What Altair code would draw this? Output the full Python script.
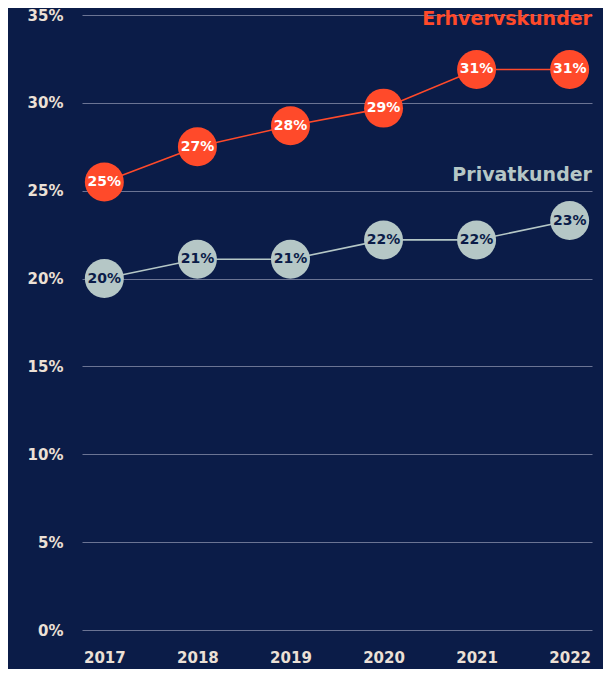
import altair as alt
import pandas as pd

years = ["2017", "2018", "2019", "2020", "2021", "2022"]
erhverv = [25.5, 27.5, 28.7, 29.7, 31.9, 31.9]
erhverv_labels = ["25%", "27%", "28%", "29%", "31%", "31%"]
privat = [20.0, 21.1, 21.1, 22.2, 22.2, 23.3]
privat_labels = ["20%", "21%", "21%", "22%", "22%", "23%"]
series_names = ["Erhvervskunder", "Privatkunder"]
series_label_y = [34.8, 25.9]

BG = "#0b1c48"
RED = "#ff4a2a"
GREY = "#b5c7c6"
CREAM = "#ece0d6"
FONT = "DejaVu Sans"

df = pd.DataFrame({
    "year": years * 2,
    "value": erhverv + privat,
    "label": erhverv_labels + privat_labels,
    "series": [series_names[0]] * 6 + [series_names[1]] * 6,
})
names = pd.DataFrame({"series": series_names, "value": series_label_y})

color = alt.Color("series:N", scale=alt.Scale(domain=series_names, range=[RED, GREY]), legend=None)
x = alt.X("year:O", scale=alt.Scale(type="point", padding=0.24),
          axis=alt.Axis(title=None, labelAngle=0, domain=False, ticks=False, grid=False,
                        labelColor=CREAM, labelFont=FONT, labelFontSize=15, labelFontWeight="bold",
                        labelPadding=20))
y = alt.Y("value:Q", scale=alt.Scale(domain=[0, 35], nice=False),
          axis=alt.Axis(title=None, values=[0, 5, 10, 15, 20, 25, 30, 35], labelExpr="datum.value + '%'",
                        domain=False, ticks=False, grid=True, gridColor="#6b7494", gridWidth=1,
                        labelColor=CREAM, labelFont=FONT, labelFontSize=15, labelFontWeight="bold",
                        labelPadding=19))

base = alt.Chart(df)
lines = base.mark_line(strokeWidth=1.6).encode(x=x, y=y, color=color)
points = base.mark_circle(size=1520, opacity=1).encode(x=x, y=y, color=color)
texts = base.mark_text(font=FONT, fontSize=14, fontWeight="bold").encode(
    x=x, y=y, text="label:N",
    color=alt.Color("series:N", scale=alt.Scale(domain=series_names, range=["#ffffff", BG]), legend=None))
series_text = alt.Chart(names).mark_text(font=FONT, fontSize=19, fontWeight="bold", align="right",
                                          baseline="middle").encode(
    x=alt.value(510), y=alt.Y("value:Q"), text="series:N",
    color=alt.Color("series:N", scale=alt.Scale(domain=series_names, range=[RED, GREY]), legend=None))

chart = alt.layer(lines, points, texts, series_text).resolve_scale(color="independent").properties(
    width=510, height=615, background=BG,
    autosize=alt.AutoSizeParams(type="none"),
    padding={"left": 74, "top": 7, "right": 11, "bottom": 39},
).configure_view(stroke=None)

chart.save("out.html", embed_options={"renderer": "svg", "actions": False})
